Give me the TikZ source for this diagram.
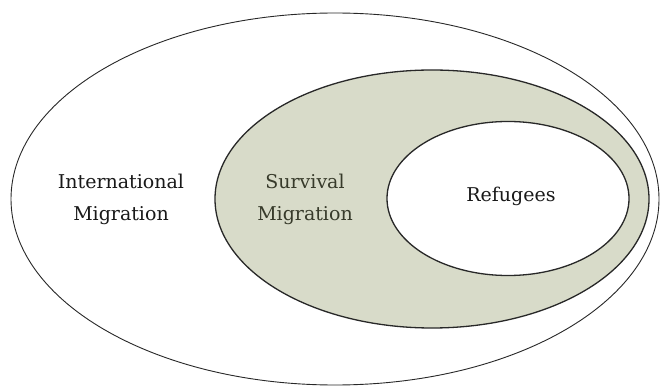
\documentclass[tikz,border=0pt]{standalone}
\usepackage{fontspec}
\setmainfont{DejaVu Serif}
\usepackage{tikz}

\definecolor{survivalfill}{RGB}{216,219,201}
\definecolor{survivaltext}{RGB}{55,58,42}
\definecolor{rimgray}{RGB}{40,40,40}

\begin{document}
\begin{tikzpicture}[x=1pt, y=-1pt, line join=round, line cap=round,
	label text/.style={align=center, font=\fontsize{19}{32}\selectfont, text=black!90}]
	% 1. Khung
	\useasboundingbox (0,0) rectangle (663,387);
	\fill[white] (0,0) rectangle (663,387);
	
	% 2. Ba elip lồng nhau
	\draw[rimgray, line width=0.9pt] (335,199) ellipse [x radius=324, y radius=186];
	\draw[rimgray, line width=1.3pt, fill=survivalfill] (432,199) ellipse [x radius=217, y radius=129];
	\draw[rimgray, line width=1.3pt, fill=white] (508,198.5) ellipse [x radius=121, y radius=77];
	
	% 3. Nhãn
	\node[label text] (intl) at (121,199) {International\\Migration};
	\node[label text, text=survivaltext] (surv) at (305,199) {Survival\\Migration};
	\node[label text] (refu) at (511,196) {Refugees};
\end{tikzpicture}
\end{document}
